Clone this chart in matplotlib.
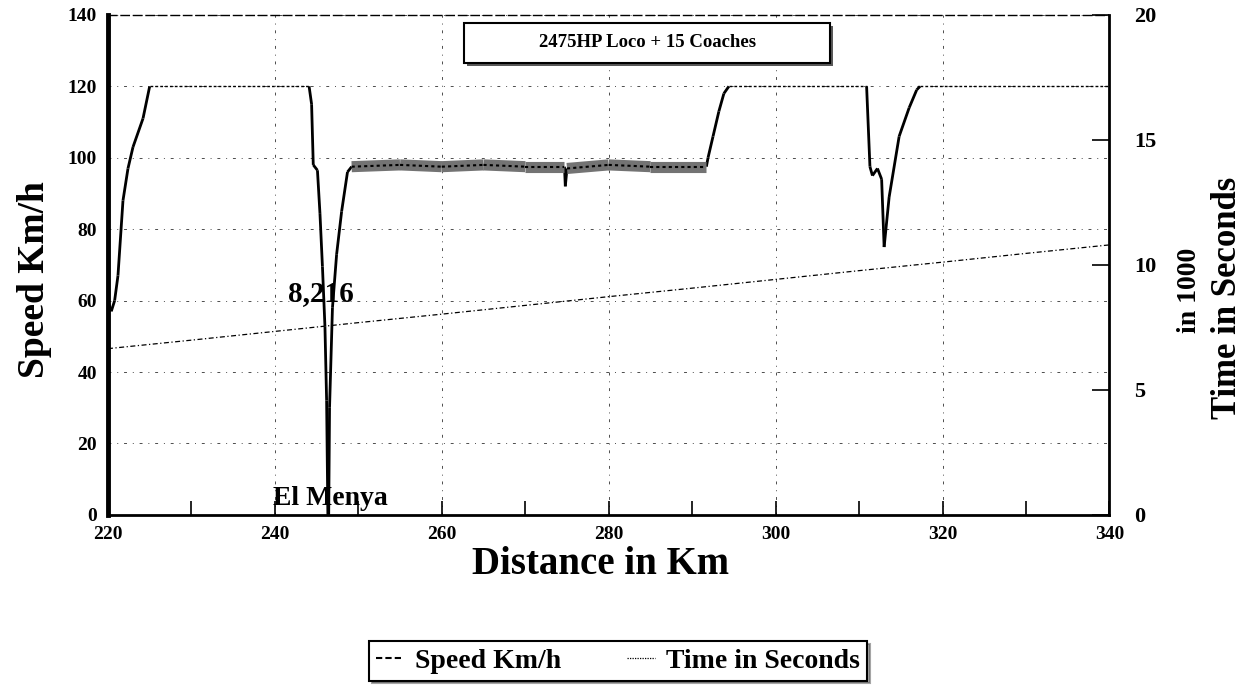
import numpy as np
import matplotlib.pyplot as plt
from matplotlib.collections import LineCollection
from matplotlib.patches import Rectangle
from matplotlib.lines import Line2D

# speed profile (km, km/h)
dist_km = [220.0, 220.4, 220.8, 221.2, 221.8, 222.4, 223.0, 224.2, 225.0,
           244.1, 244.4, 244.6, 245.1, 245.4, 245.7, 246.0, 246.2, 246.35,
           246.45, 246.55, 246.9, 247.4, 248.0, 248.7, 249.2,
           255.0, 260.0, 265.0, 270.0, 274.7, 274.8, 275.0, 280.0, 285.0,
           291.7, 291.9, 292.5, 293.2, 293.8, 294.4,
           310.9, 311.3, 311.6, 312.2, 312.7, 313.0, 313.6, 314.8, 316.0,
           316.9, 317.3, 340.0]
speed_kmh = [60, 57, 60, 67, 88, 97, 103, 111, 120,
             120, 115, 98, 96.5, 84.5, 69.5, 52.7, 32, 0,
             0, 30, 58, 73, 85, 96, 97.5,
             98, 97.5, 98, 97.5, 97.5, 92, 97, 98, 97.5,
             97.5, 100, 106, 113, 118, 120,
             120, 97.5, 95, 97, 94, 75, 89, 106, 114,
             119, 120, 120]

# running time (thousand seconds)
time_km = [220, 230, 240, 250, 260, 270, 280, 290, 300, 310, 320, 330, 340]
time_ks = [6.65, 6.99, 7.34, 7.69, 8.03, 8.38, 8.73, 9.07, 9.42, 9.77, 10.11, 10.46, 10.80]

serif = ['Liberation Serif', 'DejaVu Serif']
plt.rcParams['font.family'] = serif
plt.rcParams['font.weight'] = 'bold'

fig = plt.figure(figsize=(12.48, 6.93), dpi=100)
ax = fig.add_axes([0.0865, 0.257, 0.8025, 0.7215])

x = np.array(dist_km)
y = np.array(speed_kmh, dtype=float)
pts = np.column_stack([x, y])
segs = np.stack([pts[:-1], pts[1:]], axis=1)

plateau = (y[:-1] >= 119.9) & (y[1:] >= 119.9)
band = (x[:-1] >= 249.0) & (x[1:] <= 291.8) & (y[:-1] >= 96) & (y[1:] >= 96)
normal = ~(plateau | band)

ax.add_collection(LineCollection(segs[normal], colors='black', linewidths=2.0))
ax.add_collection(LineCollection(segs[plateau], colors='black', linewidths=1.0,
                                 linestyles=[(0, (2, 1.5))]))
ax.add_collection(LineCollection(segs[band], colors='0.45', linewidths=8))
ax.add_collection(LineCollection(segs[band], colors='black', linewidths=1.5,
                                 linestyles=[(0, (1.5, 1.5))]))

ax.set_xlim(220, 340)
ax.set_ylim(0, 140)
ax.set_xticks(np.arange(220, 341, 20))
ax.set_xticks(np.arange(230, 340, 20), minor=True)
ax.set_yticks(np.arange(0, 141, 20))
ax.grid(True, color='0.3', linewidth=0.7, linestyle=(0, (3, 6, 1, 6)))
ax.tick_params(axis='x', which='both', direction='in', length=10, width=1.2,
               labelsize=14, pad=8)
ax.tick_params(axis='y', direction='in', length=0, labelsize=14, pad=8)

for s, w in [('left', 3.5), ('bottom', 2), ('right', 2)]:
    ax.spines[s].set_linewidth(w)
ax.spines['top'].set_linewidth(1.0)
ax.spines['top'].set_linestyle((0, (6, 3)))

fig.text(600 / 1248, 1 - 565 / 693, 'Distance in Km', fontsize=28,
         fontweight='bold', ha='center', va='center')
fig.text(35 / 1248, 1 - 280 / 693, 'Speed Km/h', rotation=90, fontsize=27,
         fontweight='bold', ha='center', va='center')

ax2 = ax.twinx()
ax2.plot(time_km, time_ks, color='black', linewidth=0.9,
         linestyle=(0, (4, 2, 1, 2)))
ax2.set_ylim(0, 20)
ax2.set_yticks([0, 5, 10, 15, 20])
ax2.tick_params(axis='y', direction='in', length=12, width=1.2, labelsize=16, pad=18)
for s in ax2.spines.values():
    s.set_visible(False)

fig.text(1190 / 1248, 1 - 290 / 693, 'in 1000', rotation=90, fontsize=20,
         fontweight='bold', ha='center', va='center')
fig.text(1228 / 1248, 1 - 298 / 693, 'Time in Seconds', rotation=90, fontsize=25,
         fontweight='bold', ha='center', va='center')

# annotations
ax.text(245.5, 62, '8,216', fontsize=21, fontweight='bold', ha='center', va='center',
        zorder=5)
ax.text(246.6, 4.5, 'El Menya', fontsize=20, fontweight='bold', ha='center',
        va='center', zorder=5)

# title box with shadow
ax.add_patch(Rectangle((0.359, 0.898), 0.365, 0.08, transform=ax.transAxes,
                       facecolor='0.35', edgecolor='none', zorder=6, clip_on=False))
ax.add_patch(Rectangle((0.356, 0.904), 0.365, 0.08, transform=ax.transAxes,
                       facecolor='white', edgecolor='black', linewidth=1.5,
                       zorder=7, clip_on=False))
ax.text(0.5385, 0.944, '2475HP Loco + 15 Coaches', transform=ax.transAxes,
        fontsize=13.5, fontweight='bold', ha='center', va='center', zorder=8)

handles = [Line2D([], [], color='black', linewidth=1.5, linestyle=(0, (3, 1.5))),
           Line2D([], [], color='black', linewidth=0.9, linestyle=(0, (1, 1)))]
leg = fig.legend(handles, ['Speed Km/h', 'Time in Seconds'], loc='center',
                 bbox_to_anchor=(618 / 1248, 1 - 661 / 693), ncol=2,
                 frameon=True, fancybox=False, shadow=True, edgecolor='black',
                 prop={'family': serif, 'weight': 'bold', 'size': 20},
                 handlelength=1.0, handletextpad=0.4, columnspacing=2.4,
                 borderpad=0.25)
leg.get_frame().set_linewidth(1.5)

fig.savefig('out.png', dpi=100)
